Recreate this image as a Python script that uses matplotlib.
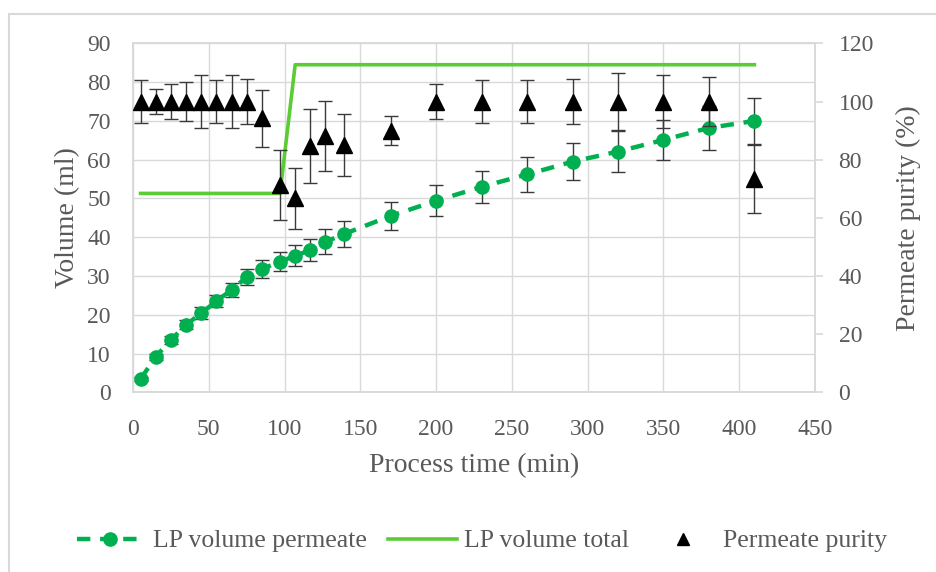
import matplotlib
matplotlib.use('Agg')
import matplotlib.pyplot as plt
from matplotlib.lines import Line2D
from matplotlib.patches import Rectangle

# sampling times (min)
time = [5, 15, 25, 35, 45, 55, 65, 75, 85, 97, 107, 117, 127, 139,
        170, 200, 230, 260, 290, 320, 350, 380, 410]
# LP volume permeate (ml) and its error
vol_perm = [3.4, 9.2, 13.5, 17.4, 20.4, 23.5, 26.4, 29.7, 31.8, 33.7, 35.2, 36.7,
            38.8, 40.8, 45.5, 49.4, 53.0, 56.2, 59.5, 62.1, 65.1, 68.2, 70.0]
vol_perm_err = [0.5, 0.8, 1.0, 1.2, 1.5, 1.6, 1.9, 2.1, 2.3, 2.4, 2.7, 2.9,
                3.2, 3.4, 3.7, 4.0, 4.2, 4.5, 4.8, 5.2, 5.1, 5.6, 5.9]
# LP volume total (ml)
time_total = [5, 97, 107, 410]
vol_total = [51.3, 51.3, 84.5, 84.5]
# permeate purity (%) and its error
purity = [100, 100, 100, 100, 100, 100, 100, 100, 94.2, 71.3, 66.7, 84.7,
          88.2, 85.1, 90.0, 100, 100, 100, 100, 100, 100, 100, 73.4]
purity_err = [7.5, 4.3, 6.0, 6.8, 9.2, 7.4, 9.2, 7.8, 9.8, 12.2, 10.4, 12.7,
              12.0, 10.6, 5.0, 6.1, 7.4, 7.4, 7.8, 9.8, 9.0, 8.3, 11.7]

labels = ['LP volume permeate', 'LP volume total', 'Permeate purity']

plt.rcParams['font.family'] = ['Liberation Serif', 'DejaVu Serif']
txt = '#595959'
grid = '#d9d9d9'
green_dark = '#00b050'
green_light = '#5ccc35'
dash = (0, (3, 2.2))

fig = plt.figure(figsize=(9.36, 5.72), dpi=100)
fig.patches.append(Rectangle((9 / 936, -0.1), 1.2, 1 - 14 / 572 + 0.1,
                             transform=fig.transFigure, fill=False,
                             edgecolor=grid, linewidth=1.5))
ax = fig.add_axes([133 / 936, 1 - 392.3 / 572, (815 - 133) / 936, (392.3 - 43.4) / 572])
ax2 = ax.twinx()

# volume axis
ax.errorbar(time, vol_perm, yerr=vol_perm_err, fmt='none', ecolor='#3a3a3a',
            elinewidth=1, capsize=5, capthick=1, zorder=2)
ax.plot(time, vol_perm, color=green_dark, linestyle=dash, linewidth=3.2,
        marker='o', markersize=9.5, zorder=3)
ax.plot(time_total, vol_total, color=green_light, linewidth=2.6, zorder=3)

# purity axis
ax2.errorbar(time, purity, yerr=purity_err, fmt='none', ecolor='#3a3a3a',
             elinewidth=1, capsize=5, capthick=1, zorder=2)
ax2.plot(time, purity, linestyle='none', marker='^', markersize=11,
         color='black', zorder=3)

ax.set_xlim(0, 450)
ax.set_ylim(0, 90)
ax2.set_ylim(0, 120)
ax.set_xticks(range(0, 451, 50))
ax.set_yticks(range(0, 91, 10))
ax2.set_yticks(range(0, 121, 20))

ax.grid(True, color=grid, linewidth=1)
ax.set_axisbelow(True)
for a in (ax, ax2):
    for s in a.spines.values():
        s.set_color(grid)
        s.set_linewidth(1.2)
ax.tick_params(axis='both', length=0, labelsize=17, labelcolor=txt)
ax.tick_params(axis='y', pad=16)
ax.tick_params(axis='x', pad=19)
ax2.tick_params(axis='y', length=6, color=grid, width=1.2, labelsize=17,
                labelcolor=txt, pad=11)

ax.set_xlabel('Process time (min)', fontsize=20, color=txt, labelpad=10)
ax.set_ylabel('Volume (ml)', fontsize=20, color=txt, labelpad=5)
ax2.set_ylabel('Permeate purity (%)', fontsize=20, color=txt, labelpad=16)

# legend, one entry at a time to match the spacing
handles = [
    Line2D([], [], color=green_dark, linestyle=dash, linewidth=3.2,
           marker='o', markersize=9.5),
    Line2D([], [], color=green_light, linewidth=2.6),
    Line2D([], [], color='black', linestyle='none', marker='^', markersize=8),
]
starts = [77, 388, 670]
hlens = [2.6, 2.7, 1.0]
pads = [0.35, 0.25, 1.05]
for h, lab, x0, hl, tp in zip(handles, labels, starts, hlens, pads):
    fig.legend([h], [lab], loc='center left', bbox_to_anchor=(x0 / 936, 1 - 541 / 572),
               frameon=False, fontsize=18.5, labelcolor=txt, borderpad=0,
               borderaxespad=0, handlelength=hl, handletextpad=tp)

fig.savefig('out.png', dpi=100)
